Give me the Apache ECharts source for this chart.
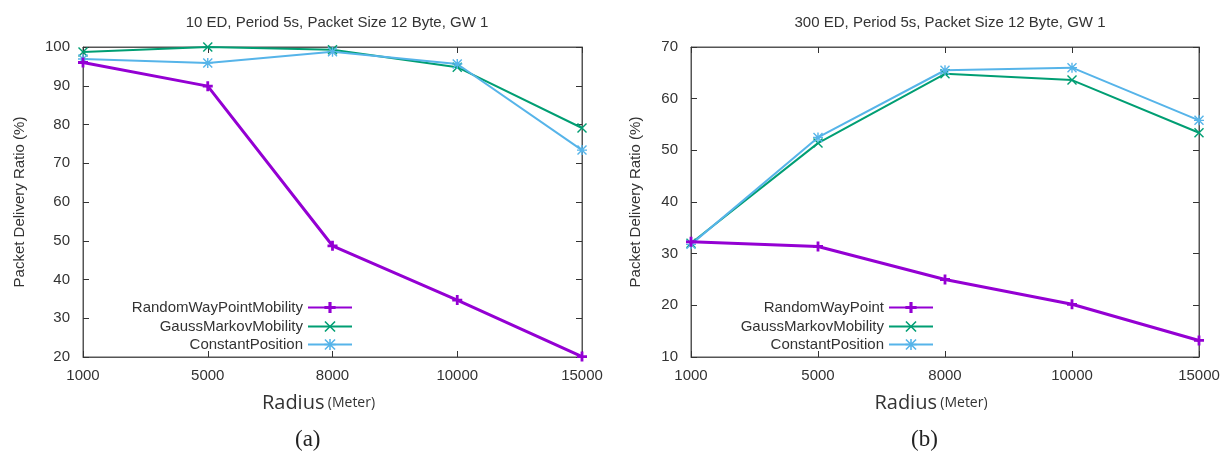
<!DOCTYPE html>
<html>
<head>
<meta charset="utf-8">
<script src="https://cdn.jsdelivr.net/npm/echarts@6/dist/echarts.min.js"></script>
<style>
  html, body { margin: 0; padding: 0; background: #fff; }
  #main { width: 1228px; height: 455px; }
</style>
</head>
<body>
<div id="main"></div>
<script>
// radius categories (same for both panels)
var radius = ['1000', '5000', '8000', '10000', '15000'];

// (a) 10 ED
var rwpA = [96, 89.9, 48.7, 34.7, 20.1];
var gmA = [98.7, 100, 99.3, 94.8, 79.1];
var cpA = [96.9, 95.9, 98.8, 95.6, 73.4];

// (b) 300 ED
var rwpB = [32.3, 31.4, 25.0, 20.2, 13.2];
var gmB = [32.0, 51.4, 64.8, 63.6, 53.4];
var cpB = [31.8, 52.5, 65.5, 66.0, 55.8];

var titleA = '10 ED, Period 5s, Packet Size 12 Byte, GW 1';
var titleB = '300 ED, Period 5s, Packet Size 12 Byte, GW 1';

var PURPLE = '#9400d3', GREEN = '#009e73', BLUE = '#56b4e9';
var symPlus = 'path://M3.6,0H6.4V10H3.6Z M0,3.6H10V6.4H0Z';
var symX = 'path://M0,1L1,0L5,4L9,0L10,1L6,5L10,9L9,10L5,6L1,10L0,9L4,5Z';
var symStar = 'path://M4.3,0H5.7V10H4.3Z M0,4.3H10V5.7H0Z M0,1L1,0L10,9L9,10Z M9,0L10,1L1,10L0,9Z';

var font = 'Liberation Sans, Arial, sans-serif';
var axisCol = '#555';

function xAx(grid, top) {
    return {
        type: 'category', gridIndex: grid, data: radius, boundaryGap: false,
        position: top ? 'top' : 'bottom',
        axisLine: {show: true, lineStyle: {color: axisCol, width: 1}},
        axisTick: {show: true, inside: true, length: 6, alignWithLabel: true, lineStyle: {color: '#333'}},
        axisLabel: {show: !top, margin: 11, fontFamily: font, fontSize: 15, color: '#333'},
        splitLine: {show: false},
        name: top ? '' : '{a|Radius} {b|(Meter)}',
        nameLocation: 'middle', nameGap: 36,
        nameTextStyle: {
            padding: [0, 28, 0, 0],
            rich: {
                a: {fontFamily: 'Open Sans', fontSize: 20, color: '#333'},
                b: {fontFamily: 'Open Sans', fontSize: 14, color: '#333'}
            }
        }
    };
}

function yAx(grid, right, min, max, gap) {
    return {
        type: 'value', gridIndex: grid, min: min, max: max, interval: 10,
        position: right ? 'right' : 'left',
        axisLine: {show: true, lineStyle: {color: axisCol, width: 1}},
        axisTick: {show: true, inside: true, length: 6, lineStyle: {color: '#333'}},
        axisLabel: {show: !right, margin: 13, fontFamily: font, fontSize: 15, color: '#333'},
        splitLine: {show: false},
        name: right ? '' : 'Packet Delivery Ratio (%)',
        nameLocation: 'middle', nameGap: gap,
        nameTextStyle: {fontFamily: font, fontSize: 15, color: '#333'}
    };
}

function line(name, data, color, width, sym, xi, yi) {
    return {
        name: name, type: 'line', data: data, xAxisIndex: xi, yAxisIndex: yi,
        color: color, symbol: sym, symbolSize: 10, showSymbol: true,
        lineStyle: {color: color, width: width},
        itemStyle: {color: color},
        emphasis: {disabled: true},
        animation: false, z: width > 2 ? 3 : 2
    };
}

function leg(name, right, top) {
    return {
        data: [name], right: right, top: top, align: 'right', orient: 'vertical',
        itemWidth: 44, itemHeight: 14, padding: 0,
        textStyle: {fontFamily: font, fontSize: 15, color: '#333'},
        selectedMode: false
    };
}

var myChart = echarts.init(document.getElementById('main'), null, {renderer: 'canvas'});
var option = {
    backgroundColor: '#fff',
    animation: false,
    title: [
        {text: titleA, left: 332, top: 10, textAlign: 'center',
            textStyle: {fontFamily: font, fontSize: 15, fontWeight: 'normal', color: '#333'}},
        {text: titleB, left: 945, top: 10, textAlign: 'center',
            textStyle: {fontFamily: font, fontSize: 15, fontWeight: 'normal', color: '#333'}}
    ],
    grid: [
        {left: 83, right: 646, top: 47, bottom: 98, show: true, borderColor: axisCol, borderWidth: 1},
        {left: 691, right: 29, top: 47, bottom: 98, show: true, borderColor: axisCol, borderWidth: 1}
    ],
    xAxis: [xAx(0, false), xAx(0, true), xAx(1, false), xAx(1, true)],
    yAxis: [yAx(0, false, 20, 100, 56), yAx(0, true, 20, 100, 0),
        yAx(1, false, 10, 70, 48), yAx(1, true, 10, 70, 0)],
    legend: [
        leg('RandomWayPointMobility', 875, 300),
        leg('GaussMarkovMobility', 875, 319),
        leg('ConstantPosition', 875, 337),
        leg('RandomWayPoint', 294, 300),
        leg('GaussMarkovMobility', 294, 319),
        leg('ConstantPosition', 294, 337)
    ],
    series: [
        line('RandomWayPointMobility', rwpA, PURPLE, 3, symPlus, 0, 0),
        line('GaussMarkovMobility', gmA, GREEN, 2, symX, 0, 0),
        line('ConstantPosition', cpA, BLUE, 2, symStar, 0, 0),
        line('RandomWayPoint', rwpB, PURPLE, 3, symPlus, 2, 2),
        line('GaussMarkovMobility', gmB, GREEN, 2, symX, 2, 2),
        line('ConstantPosition', cpB, BLUE, 2, symStar, 2, 2)
    ],
    graphic: [
        {type: 'text', left: 295, top: 428,
            style: {text: '(a)', font: '23px "Liberation Serif", serif', fill: '#222'}},
        {type: 'text', left: 911, top: 428,
            style: {text: '(b)', font: '23px "Liberation Serif", serif', fill: '#222'}}
    ]
};
myChart.setOption(option);
window.onresize = myChart.resize;
</script>
</body>
</html>
